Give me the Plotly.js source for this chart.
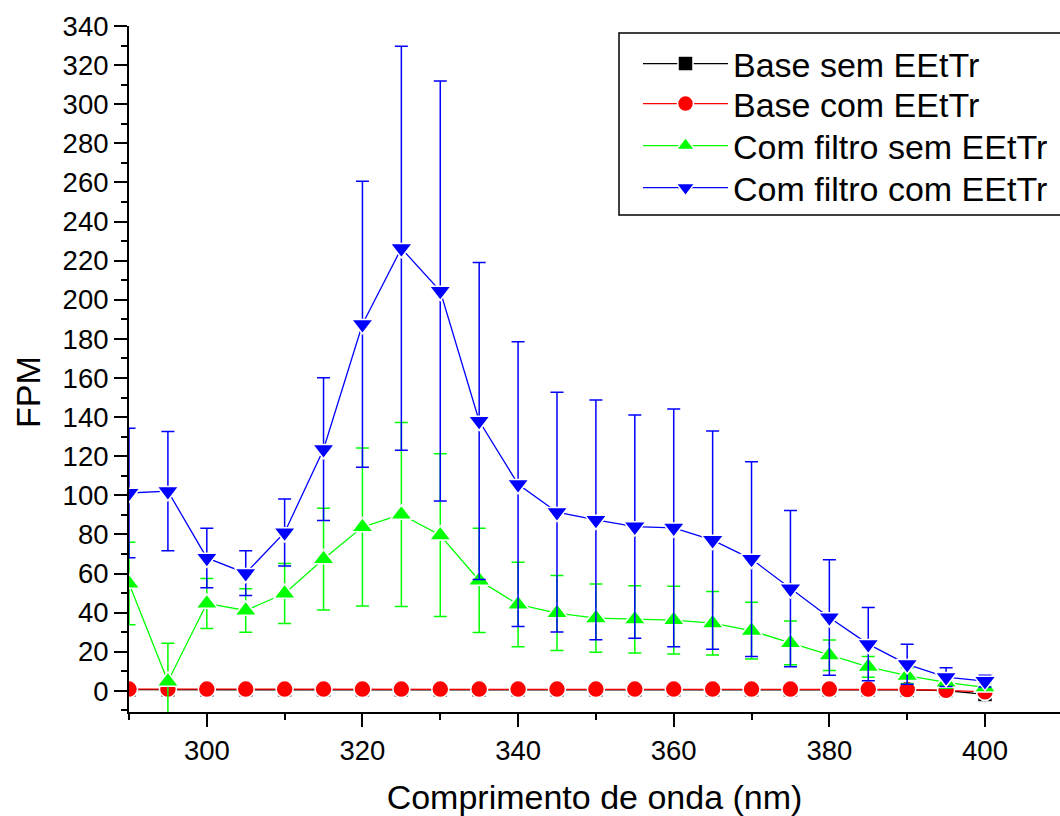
<!DOCTYPE html>
<html>
<head>
<meta charset="utf-8">
<script src="https://cdn.plot.ly/plotly-3.0.1.min.js"></script>
<style>html,body{margin:0;padding:0;background:#fff;}#chart{width:1060px;height:816px;}</style>
</head>
<body>
<div id="chart"></div>
<script>
const wavelength = [290,295,300,305,310,315,320,325,330,335,340,345,350,355,360,365,370,375,380,385,390,395,400];

const baseSem    = [0.6,0.6,0.6,0.6,0.6,0.6,0.6,0.6,0.6,0.6,0.6,0.6,0.6,0.6,0.6,0.6,0.6,0.6,0.6,0.6,0.5,0.2,-1.8];
const baseSemErr = [1.2,1.2,1.2,1.2,1.2,1.2,1.2,1.2,1.2,1.2,1.2,1.2,1.2,1.2,1.2,1.2,1.2,1.2,1.2,1.2,1.2,1.2,1.2];

const baseCom    = [0.9,0.9,0.9,0.9,0.9,0.9,0.9,0.9,0.9,0.9,0.9,0.9,0.9,0.9,0.9,0.9,0.9,0.9,0.9,0.9,0.7,0.3,-0.5];
const baseComErr = [1.0,1.0,1.0,1.0,1.0,1.0,1.0,1.0,1.0,1.0,1.0,1.0,1.0,1.0,1.0,1.0,1.0,1.0,1.0,1.0,1.0,1.0,1.0];

const filtroSem    = [54.9,4.8,44.7,41.1,49.8,67.4,83.8,90.2,79.6,56.5,44.2,39.8,37.2,36.6,36.2,34.6,30.8,24.5,18.2,12.3,7.8,4.3,1.8];
const filtroSemErr = [21.1,19.6,12.8,11.1,15.3,26.0,40.4,47.0,41.6,26.7,21.6,19.2,17.5,17.2,17.3,16.2,14.5,11.2,7.8,5.3,4.0,3.0,2.0];

const filtroCom    = [101.2,102.1,68.0,60.2,81.0,123.6,187.5,226.3,204.5,138.0,105.7,91.4,87.4,84.0,83.4,77.1,67.4,52.3,37.5,23.9,13.6,7.0,5.0];
const filtroComErr = [33.1,30.5,15.2,11.4,17.1,36.5,73.1,103.3,107.4,81.1,72.8,61.3,61.3,57.1,60.8,55.8,49.8,39.9,29.5,18.7,10.2,4.8,3.0];

const seriesNames = ['Base sem EEtTr','Base com EEtTr','Com filtro sem EEtTr','Com filtro com EEtTr'];

const FONT = 'Arial, "Liberation Sans", sans-serif';

function mk(name, y, err, color, symbol, size, legendId) {
  return {
    x: wavelength, y: y, name: name, type: 'scatter', mode: 'lines+markers',
    legend: legendId,
    line: {color: color, width: 1.3},
    marker: {color: color, symbol: symbol, size: size, line: {color: '#ffffff', width: 1.5}},
    error_y: {type: 'data', array: err, visible: true, color: color, thickness: 1.5, width: 6.5},
    cliponaxis: true
  };
}

const traces = [
  mk(seriesNames[0], baseSem, baseSemErr, '#000000', 'square', 15, 'legend'),
  mk(seriesNames[1], baseCom, baseComErr, '#ff0000', 'circle', 17, 'legend2'),
  mk(seriesNames[2], filtroSem, filtroSemErr, '#00ff00', 'triangle-up', 19, 'legend3'),
  mk(seriesNames[3], filtroCom, filtroComErr, '#0000ff', 'triangle-down', 19, 'legend4')
];

function leg(yPix) {
  return {
    x: (638 - 129) / 931, y: (712 - yPix) / 686, xanchor: 'left', yanchor: 'middle',
    bgcolor: 'rgba(0,0,0,0)', borderwidth: 0,
    font: {family: FONT, size: 34, color: '#000000'},
    itemwidth: 85
  };
}

const layout = {
  width: 1060, height: 816,
  margin: {l: 129, r: 0, t: 26, b: 104},
  paper_bgcolor: '#ffffff', plot_bgcolor: '#ffffff',
  font: {family: FONT, color: '#000000'},
  showlegend: true,
  legend: leg(64),
  legend2: leg(104),
  legend3: leg(146),
  legend4: leg(188),
  shapes: [{
    type: 'rect', xref: 'paper', yref: 'paper', layer: 'above',
    x0: (619 - 129) / 931, x1: 1.02, y0: (712 - 215) / 686, y1: (712 - 33) / 686,
    line: {color: '#000000', width: 1.5}, fillcolor: '#ffffff'
  }],
  xaxis: {
    range: [290, 409.64], showgrid: false, zeroline: false,
    showline: true, linecolor: '#000000', linewidth: 2,
    ticks: 'outside', ticklen: 13, tickwidth: 2, tickcolor: '#000000',
    tick0: 300, dtick: 20,
    minor: {dtick: 10, ticks: 'outside', ticklen: 6, tickwidth: 2, tickcolor: '#000000', showgrid: false},
    tickfont: {family: FONT, size: 27.5},
    title: {text: 'Comprimento de onda (nm)', font: {family: FONT, size: 34}, standoff: 20}
  },
  yaxis: {
    range: [-10.8, 340], showgrid: false, zeroline: false,
    showline: true, linecolor: '#000000', linewidth: 2,
    ticks: 'outside', ticklen: 13, tickwidth: 2, tickcolor: '#000000',
    tick0: 0, dtick: 20,
    minor: {dtick: 10, ticks: 'outside', ticklen: 6, tickwidth: 2, tickcolor: '#000000', showgrid: false},
    tickfont: {family: FONT, size: 27.5}
  },
  annotations: [{
    text: 'FPM', xref: 'paper', yref: 'paper', x: (28 - 129) / 931, y: (712 - 392) / 686,
    xanchor: 'center', yanchor: 'middle', textangle: -90, showarrow: false,
    font: {family: FONT, size: 34, color: '#000000'}
  }]
};

Plotly.newPlot('chart', traces, layout, {displayModeBar: false, staticPlot: true});
</script>
</body>
</html>
